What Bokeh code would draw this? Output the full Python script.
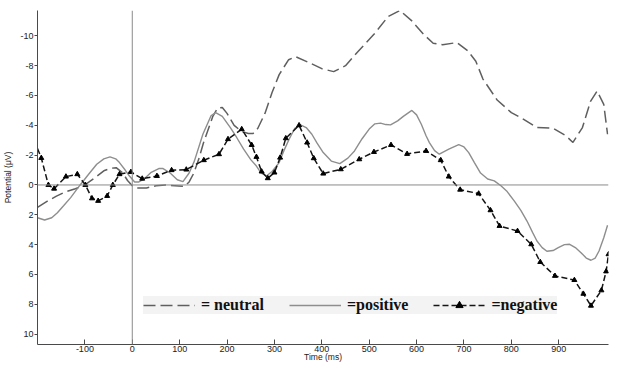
from bokeh.plotting import figure
from bokeh.models import Range1d, FixedTicker, Span, Legend, LegendItem
from bokeh.embed import file_html
from bokeh.resources import INLINE

# ---- data ----
neutral_t = [-200,-180,-160,-140,-120,-100,-80,-60,-45,-34,-20,-10,0,10,30,50,70,90,110,120,
             130,140,150,160,170,180,190,200,215,230,245,255,265,280,295,310,330,345,370,400,
             425,450,475,510,540,565,590,615,635,655,685,708,725,740,770,800,826,854,888,915,
             930,950,967,981,995,1003]
neutral_v = [1.5,1.1,0.75,0.45,0.25,0.0,-0.45,-0.95,-1.12,-1.16,-0.8,-0.3,0.05,0.2,0.2,0.05,0.0,0.05,0.1,-0.2,
             -0.8,-1.7,-2.8,-3.7,-4.6,-5.15,-5.2,-4.8,-4.0,-3.6,-3.45,-3.45,-3.8,-4.8,-6.2,-7.4,-8.4,-8.6,-8.25,-7.8,
             -7.6,-8.0,-8.9,-10.1,-11.3,-11.7,-11.0,-10.1,-9.5,-9.4,-9.55,-9.0,-8.3,-7.1,-5.7,-4.85,-4.4,-3.85,-3.8,-3.3,
             -2.85,-3.85,-5.6,-6.3,-5.4,-3.4]

positive_t = [-200,-185,-170,-158,-145,-130,-110,-90,-75,-60,-47,-35,-27,-15,-6,5,14,25,40,56,
              65,80,95,107,120,131,149,166,176,190,207,220,235,250,262,272,283,295,310,320,
              331,343,355,367,379,390,403,420,438,455,469,485,500,512,524,535,545,560,572,590,
              600,610,620,627,638,648,668,689,700,710,722,735,750,764,778,790,806,820,833,845,
              854,865,875,888,899,912,923,935,947,958,968,977,985,995,1003]
positive_v = [2.2,2.35,2.2,1.86,1.4,0.85,0.0,-0.8,-1.39,-1.75,-1.88,-1.75,-1.5,-1.0,-0.6,-0.2,-0.2,-0.4,-0.85,-1.1,
              -1.1,-0.8,-0.35,-0.22,-0.8,-1.6,-3.4,-4.63,-4.85,-4.6,-3.85,-3.2,-2.4,-1.7,-1.27,-0.8,-0.6,-0.9,-1.5,-2.3,
              -3.07,-3.8,-4.03,-3.85,-3.4,-2.8,-2.17,-1.6,-1.43,-1.8,-2.28,-3.1,-3.75,-4.1,-4.15,-4.05,-4.03,-4.3,-4.6,-5.0,
              -4.7,-4.07,-3.3,-2.84,-2.3,-2.06,-2.4,-2.7,-2.55,-2.17,-1.5,-0.8,-0.4,-0.27,0.05,0.4,1.07,1.7,2.42,3.2,
              3.76,4.2,4.45,4.4,4.2,4.0,3.98,4.2,4.54,4.9,5.05,4.9,4.43,3.54,2.7]

negative_t = [-200,-192,-177,-165,-140,-116,-99,-85,-72,-53,-41,-27,-3,21,52,83,114,151,183,202,
              231,252,262,273,286,300,312,324,352,369,383,403,440,479,510,546,580,620,651,668,
              692,731,756,775,813,842,861,892,933,952,968,990,1000,1005]
negative_v = [-2.45,-1.81,0.0,0.25,-0.56,-0.72,0.0,0.9,1.07,0.74,0.0,-0.72,-0.87,-0.42,-0.6,-0.99,-1.03,-1.66,-2.06,-3.07,
              -3.74,-2.68,-1.88,-0.9,-0.45,-0.83,-1.83,-3.13,-4.0,-2.84,-1.79,-0.76,-1.05,-1.72,-2.21,-2.68,-2.08,-2.28,-1.66,-0.56,
              0.32,0.58,1.7,2.75,3.09,3.98,5.17,6.1,6.38,7.3,8.1,7.07,5.8,4.65]

x_ticks = [-100, 0, 100, 200, 300, 400, 500, 600, 700, 800, 900]
y_ticks = [-10, -8, -6, -4, -2, 0, 2, 4, 6, 8, 10]

labels = ["= neutral", "=positive", "=negative"]

# ---- figure ----
p = figure(width=610, height=364, output_backend="svg", toolbar_location=None,
           x_range=Range1d(-200, 1005), y_range=Range1d(10.7, -11.7),
           min_border_left=36, min_border_right=2, min_border_top=10, min_border_bottom=0)
p.outline_line_color = None
p.grid.visible = False
p.background_fill_color = "white"
p.border_fill_color = "white"

# zero lines
p.add_layout(Span(location=0, dimension="width", line_color="#8a8a8a", line_width=1))
p.add_layout(Span(location=0, dimension="height", line_color="#8a8a8a", line_width=1))

rn = p.line(neutral_t, neutral_v, line_color="#5f5f5f", line_width=1.5, line_dash="12 5")
rp = p.line(positive_t, positive_v, line_color="#8e8e8e", line_width=1.4)
rg = p.line(negative_t, negative_v, line_color="#151515", line_width=1.5, line_dash="6 3")
rm = p.scatter(negative_t[1:], negative_v[1:], marker="triangle", size=5,
               fill_color="black", line_color="black")

# axes
ax = p.xaxis[0]
ax.ticker = FixedTicker(ticks=x_ticks)
ax.major_label_overrides = {t: str(t) for t in x_ticks}
ax.axis_label = "Time (ms)"
ax.major_tick_in = 5
ax.major_tick_out = 0
ax.minor_tick_line_color = None
ax.major_label_standoff = 1
ax.axis_label_standoff = -3

ay = p.yaxis[0]
ay.ticker = FixedTicker(ticks=y_ticks)
ay.major_label_overrides = {t: str(t) for t in y_ticks}
ay.axis_label = "Potential (\u03bcV)"
ay.major_tick_in = 0
ay.major_tick_out = 3
ay.minor_tick_line_color = None
ay.major_label_standoff = 1
ay.axis_label_standoff = 4

for a in (ax, ay):
    a.axis_line_color = "#4a4a4a"
    a.major_tick_line_color = "#4a4a4a"
    a.major_label_text_font = "Liberation Sans"
    a.major_label_text_font_size = "9px"
    a.major_label_text_color = "#222222"
    a.axis_label_text_font = "Liberation Sans"
    a.axis_label_text_font_size = "8.5px"
    a.axis_label_text_font_style = "normal"
    a.axis_label_text_color = "#222222"

legend = Legend(items=[LegendItem(label=labels[0], renderers=[rn]),
                       LegendItem(label=labels[1], renderers=[rp]),
                       LegendItem(label=labels[2], renderers=[rg, rm])],
                orientation="horizontal", location=(106, 30),
                background_fill_color="#f3f3f3", background_fill_alpha=1,
                border_line_color=None,
                label_text_font="Liberation Serif", label_text_font_style="bold",
                label_text_font_size="16px", label_text_color="#111111",
                glyph_width=52, glyph_height=18, label_height=18,
                label_standoff=6, spacing=25, padding=1, margin=0)
p.add_layout(legend)

open("out.html", "w").write(file_html(p, INLINE))
